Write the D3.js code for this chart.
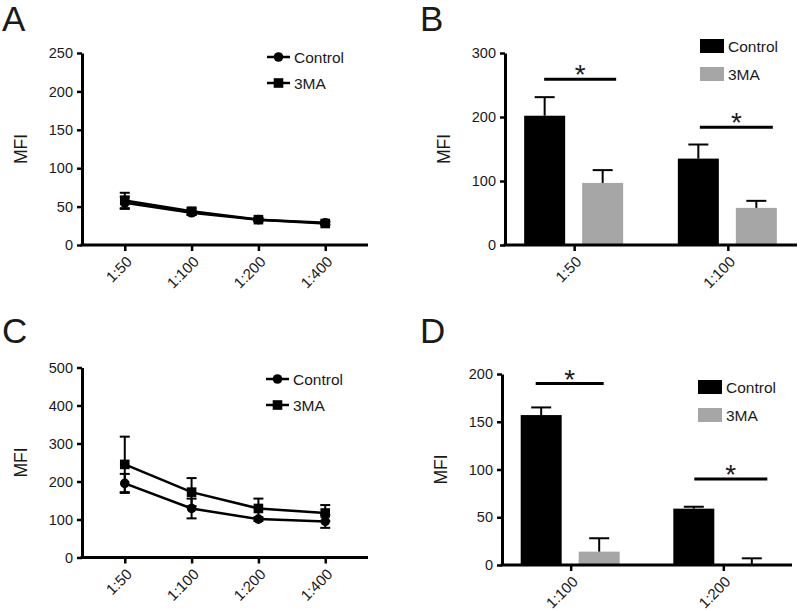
<!DOCTYPE html>
<html>
<head>
<meta charset="utf-8">
<script src="https://cdnjs.cloudflare.com/ajax/libs/d3/7.8.5/d3.min.js"></script>
<style>
  body { margin: 0; background: #fff; }
  text { font-family: "Liberation Sans", Arial, sans-serif; fill: #1a1a1a; }
</style>
</head>
<body>
<div id="chart"></div>
<script>
// ---- data ----
const lineCats = ["1:50", "1:100", "1:200", "1:400"];

const aControl = [55, 42, 33, 29];
const aControlErr = [8, 3, 2, 2];
const aDrug = [58, 44, 33, 28];
const aDrugErr = [10, 4, 2, 2];
const aTicks = [0, 50, 100, 150, 200, 250];

const cControl = [195, 129, 101, 95];
const cControlErr = [25, 26, 5, 17];
const cDrug = [245, 172, 129, 117];
const cDrugErr = [73, 37, 26, 21];
const cTicks = [0, 100, 200, 300, 400, 500];

const bCats = ["1:50", "1:100"];
const bControl = [202, 135];
const bControlErr = [29, 22];
const bDrug = [97, 58];
const bDrugErr = [20, 11];
const bTicks = [0, 100, 200, 300];
const bSig = [259, 184];

const dCats = ["1:100", "1:200"];
const dControl = [157, 59];
const dControlErr = [8, 2];
const dDrug = [14, 1];
const dDrugErr = [14, 6];
const dTicks = [0, 50, 100, 150, 200];
const dSig = [190, 90];

const seriesNames = ["Control", "3MA"];
const grey = "#a6a6a6";

const svg = d3.select("#chart").append("svg")
  .attr("width", 800).attr("height", 611);

const panelLetter = (x, y, t) => svg.append("text")
  .attr("x", x).attr("y", y).text(t)
  .style("font-size", "35px");

const drawAxes = (g, x, y, w, h, ticks) => {
  const yAxis = d3.axisLeft(y).tickValues(ticks).tickSize(5).tickSizeOuter(0).tickPadding(4);
  const gy = g.append("g").call(yAxis);
  gy.select(".domain").attr("stroke-width", 3);
  gy.selectAll(".tick line").attr("stroke-width", 2.5);
  gy.selectAll("text").style("font-size", "14.5px").attr("fill", "#1a1a1a");

  const xAxis = d3.axisBottom(x).tickSize(6).tickSizeOuter(0);
  const gx = g.append("g").attr("transform", `translate(0,${h})`).call(xAxis);
  gx.select(".domain").attr("stroke-width", 3).attr("d", `M-1.5,0H${w}`);
  gx.selectAll(".tick line").attr("stroke-width", 2.5);
  gx.selectAll("text")
    .style("font-size", "15px").attr("fill", "#1a1a1a")
    .attr("x", 0).attr("y", 0).attr("dy", "0.35em")
    .attr("text-anchor", "end")
    .attr("transform", "translate(4,14) rotate(-45)");

  g.append("text")
    .attr("transform", `translate(-55,${h / 2}) rotate(-90)`)
    .attr("text-anchor", "middle")
    .style("font-size", "17.5px")
    .text("MFI");
};

function linePanel(ox, oy, w, h, ticks, ctrl, ctrlErr, drug, drugErr, legX, legY) {
  const g = svg.append("g").attr("transform", `translate(${ox},${oy})`);
  const x = d3.scalePoint().domain(lineCats).range([0, w]).padding(0.64);
  const y = d3.scaleLinear().domain([0, d3.max(ticks)]).range([h, 0]);
  drawAxes(g, x, y, w, h, ticks);

  const series = [
    { vals: ctrl, err: ctrlErr, shape: "circle" },
    { vals: drug, err: drugErr, shape: "square" }
  ];
  const line = d3.line().x((d, i) => x(lineCats[i])).y(d => y(d));

  series.forEach(s => {
    g.append("path").datum(s.vals).attr("d", line)
      .attr("fill", "none").attr("stroke", "#000").attr("stroke-width", 2.5);
  });
  series.forEach(s => {
    s.vals.forEach((v, i) => {
      const cx = x(lineCats[i]);
      const lo = y(v - s.err[i]), hi = y(v + s.err[i]);
      g.append("line").attr("x1", cx).attr("x2", cx).attr("y1", lo).attr("y2", hi)
        .attr("stroke", "#000").attr("stroke-width", 2);
      [lo, hi].forEach(yy => g.append("line")
        .attr("x1", cx - 5).attr("x2", cx + 5).attr("y1", yy).attr("y2", yy)
        .attr("stroke", "#000").attr("stroke-width", 2));
    });
  });
  const marker = (sel, shape, cx, cy) => shape === "circle"
    ? sel.append("circle").attr("cx", cx).attr("cy", cy).attr("r", 4.8).attr("fill", "#000")
    : sel.append("rect").attr("x", cx - 4.8).attr("y", cy - 4.8).attr("width", 9.6).attr("height", 9.6).attr("fill", "#000");
  series.forEach(s => s.vals.forEach((v, i) => marker(g, s.shape, x(lineCats[i]), y(v))));

  // legend
  series.forEach((s, i) => {
    const ly = legY + i * 26;
    svg.append("line").attr("x1", legX).attr("x2", legX + 23).attr("y1", ly).attr("y2", ly)
      .attr("stroke", "#000").attr("stroke-width", 2.5);
    marker(svg, s.shape, legX + 11.5, ly);
    svg.append("text").attr("x", legX + 27).attr("y", ly).attr("dy", "0.36em")
      .style("font-size", "15.5px").text(seriesNames[i]);
  });
}

function barPanel(ox, oy, w, h, ticks, cats, ctrl, ctrlErr, drug, drugErr, sig, sigSpans, legX, legY) {
  const g = svg.append("g").attr("transform", `translate(${ox},${oy})`);
  const x = d3.scalePoint().domain(cats).range([0, w]).padding(0.45);
  const y = d3.scaleLinear().domain([0, d3.max(ticks)]).range([h, 0]);

  const bw = 41;
  const series = [
    { vals: ctrl, err: ctrlErr, fill: "#000", off: -50 },
    { vals: drug, err: drugErr, fill: grey, off: 8 }
  ];
  series.forEach(s => {
    g.selectAll(null).data(s.vals).enter().append("rect")
      .attr("x", (d, i) => x(cats[i]) + s.off)
      .attr("y", d => y(d))
      .attr("width", bw)
      .attr("height", d => h - y(d))
      .attr("fill", s.fill);
    s.vals.forEach((v, i) => {
      const cx = x(cats[i]) + s.off + bw / 2;
      g.append("line").attr("x1", cx).attr("x2", cx).attr("y1", y(v)).attr("y2", y(v + s.err[i]))
        .attr("stroke", "#000").attr("stroke-width", 2);
      g.append("line").attr("x1", cx - 10).attr("x2", cx + 10)
        .attr("y1", y(v + s.err[i])).attr("y2", y(v + s.err[i]))
        .attr("stroke", "#000").attr("stroke-width", 2);
    });
  });

  drawAxes(g, x, y, w, h, ticks);

  // significance brackets
  sig.forEach((v, i) => {
    const cx = x(cats[i]);
    const [a, b] = sigSpans[i];
    g.append("line").attr("x1", cx + a).attr("x2", cx + b).attr("y1", y(v)).attr("y2", y(v))
      .attr("stroke", "#000").attr("stroke-width", 3);
    g.append("text").attr("x", cx + (a + b) / 2).attr("y", y(v) + 5)
      .attr("text-anchor", "middle").style("font-size", "28px").text("*");
  });

  // legend
  series.forEach((s, i) => {
    const ly = legY + i * 28;
    svg.append("rect").attr("x", legX).attr("y", ly - 7).attr("width", 24).attr("height", 14)
      .attr("fill", s.fill);
    svg.append("text").attr("x", legX + 28).attr("y", ly).attr("dy", "0.36em")
      .style("font-size", "15.5px").text(seriesNames[i]);
  });
}

panelLetter(2, 31, "A");
panelLetter(420, 31, "B");
panelLetter(2, 343, "C");
panelLetter(420, 343, "D");

linePanel(82, 53, 286, 192, aTicks, aControl, aControlErr, aDrug, aDrugErr, 267, 57);
barPanel(505, 53, 292, 192, bTicks, bCats, bControl, bControlErr, bDrug, bDrugErr,
  bSig, [[-30, 42], [-28, 45]], 700, 46);
linePanel(82, 367.5, 286, 190, cTicks, cControl, cControlErr, cDrug, cDrugErr, 266, 379);
barPanel(502, 374, 290, 191, dTicks, dCats, dControl, dControlErr, dDrug, dDrugErr,
  dSig, [[-35, 33], [-29, 44]], 698, 387);
</script>
</body>
</html>
